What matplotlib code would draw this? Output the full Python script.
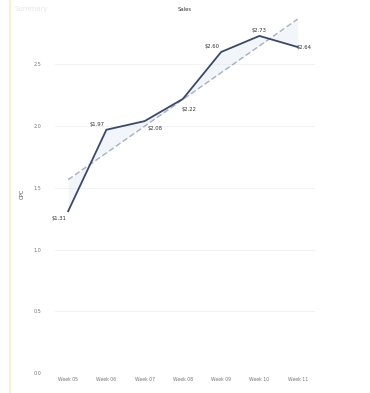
import numpy as np
import matplotlib
matplotlib.use('Agg')
import matplotlib.pyplot as plt
from matplotlib.lines import Line2D

weeks = ['Week 05', 'Week 06', 'Week 07', 'Week 08', 'Week 09', 'Week 10', 'Week 11']
cpc = [1.31, 1.97, 2.04, 2.22, 2.60, 2.73, 2.64]
cpc_labels = ['$1.31', '$1.97', '$2.08', '$2.22', '$2.60', '$2.73', '$2.64']
yticks = [0.0, 0.5, 1.0, 1.5, 2.0, 2.5]

# label offsets in points (dx, dy, ha)
label_pos = [(-1, -5, 'right'), (-1, 4, 'right'), (2, -5, 'left'), (-1, -8, 'left'),
             (-1, 4, 'right'), (0, 4, 'center'), (-1, 0, 'left')]

fig = plt.figure(figsize=(3.7, 3.93), dpi=100)
ax = fig.add_axes([0.149, 0.051, 0.702, 0.911])

x = np.arange(len(weeks))
ax.plot(x, cpc, color='#3b4866', lw=1.3, zorder=3)

# linear trend
k, b = np.polyfit(x, cpc, 1)
trend = k * x + b
ax.plot(x, trend, color='#a7afc0', lw=1.0, ls=(0, (4, 2)), zorder=2)
ax.fill_between(x, cpc, trend, color='#dce8f5', alpha=0.35, lw=0, zorder=1)

for xi, yi, lab, (dx, dy, ha) in zip(x, cpc, cpc_labels, label_pos):
    ax.annotate(lab, (xi, yi), xytext=(dx, dy), textcoords='offset points',
                ha=ha, va='center', fontsize=3.8, color='#333333')

ax.set_xlim(-0.34, 6.45)
ax.set_ylim(0, 2.9)
ax.set_xticks(x)
ax.set_xticklabels(weeks, fontsize=3.3, color='#777777')
ax.set_yticks(yticks)
ax.set_yticklabels(['%.1f' % t for t in yticks], fontsize=3.5, color='#777777')
ax.tick_params(length=0, pad=10)
ax.tick_params(axis='x', pad=3)
ax.grid(axis='y', color='#f0f0f0', lw=0.6)
ax.set_axisbelow(True)
for s in ax.spines.values():
    s.set_visible(False)
ax.set_ylabel('CPC', fontsize=3.8, color='#555555', labelpad=6)
ax.set_title('Sales', fontsize=3.8, color='#333333', pad=3)

fig.add_artist(Line2D([0.028, 0.028], [0.0, 1.0], color='#fbeec4', lw=1.2))
fig.text(0.04, 0.985, 'Summary', fontsize=5, color='#e6e6e6', va='top')

fig.savefig('out.png', dpi=100)
